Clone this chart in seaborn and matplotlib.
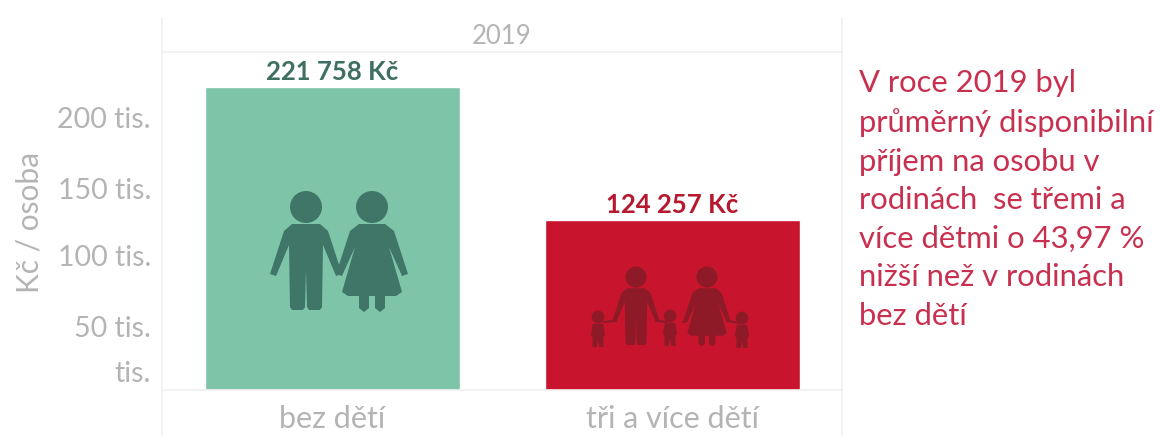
import numpy as np
import pandas as pd
import matplotlib.pyplot as plt
import matplotlib.transforms as mtrans
from matplotlib.patches import Circle, Polygon
import seaborn as sns

# data
categories = ['bez dětí', 'tři a více dětí']
values = [221758, 124257]
tick_values = [0, 50000, 100000, 150000, 200000]
tick_labels = ['tis.', '50 tis.', '100 tis.', '150 tis.', '200 tis.']
year = '2019'
note = ('V roce 2019 byl\nprůměrný disponibilní\npříjem na osobu v\n'
        'rodinách  se třemi a\nvíce dětmi o 43,97 %\nnižší než v rodinách\nbez dětí')

W, H = 1160, 436
GREEN = '#7EC4A8'
RED = '#C8152D'
GREY = '#B4B4B4'
LINE = '#F0F0F0'

sns.set_theme(style='white')
plt.rcParams['font.family'] = ['Lato', 'DejaVu Sans']

fig = plt.figure(figsize=(W / 100, H / 100), dpi=100)
# axes box in pixels: 162-842 across, 52-390 down
ax = fig.add_axes([162 / W, 1 - 390 / H, 680 / W, 338 / H])

df = pd.DataFrame({'typ': categories, 'prijem': values})
sns.barplot(data=df, x='typ', y='prijem', hue='typ', palette=[GREEN, RED],
            width=0.75, dodge=False, legend=False, saturation=1, ax=ax)
ax.set_xlim(-0.5, 1.5)
ax.set_ylim(0, 247400)
sns.despine(ax=ax, left=True, bottom=True, top=True, right=True)

ax.set_yticks(tick_values)
ax.set_yticklabels(tick_labels)
ax.tick_params(axis='y', length=0, pad=8, labelsize=20.5, labelcolor=GREY)
ax.tick_params(axis='x', length=0, pad=11, labelsize=22, labelcolor=GREY)
ax.set_xlabel('')
ax.set_ylabel('Kč / osoba', fontsize=21.5, color=GREY, labelpad=0)
ax.yaxis.set_label_coords((44 - 162) / 680, (390 - 222) / 338)

# the tick labels sit a bit above/below their ticks in the original
shifts = [18, -5, -2, -3, -1]
for lab, dy in zip(ax.get_yticklabels(), shifts):
    lab.set_transform(lab.get_transform() + mtrans.ScaledTranslation(0, dy / 100, fig.dpi_scale_trans))

# value labels above the bars
label_colors = ['#3F6F62', '#B5182F']
for cont, v, c in zip(ax.containers, values, label_colors):
    txt = f'{v:,}'.replace(',', ' ') + ' Kč'
    ax.bar_label(cont, labels=[txt], color=c, fontsize=18.5, fontweight='bold', padding=2)

ax.text(0.5, 1 + 16 / 338, year, transform=ax.transAxes, ha='center', va='center',
        fontsize=18.5, color=GREY)

# overlay in pixel coordinates for frame lines and the people icons
ov = fig.add_axes([0, 0, 1, 1], zorder=5)
ov.set_xlim(0, W)
ov.set_ylim(H, 0)
ov.axis('off')
ov.patch.set_alpha(0)

ov.plot([162, 162], [18, 435], color=LINE, lw=1.2)
ov.plot([842, 842], [18, 435], color=LINE, lw=1.2)
ov.plot([162, 842], [52, 52], color=LINE, lw=1.2)
ov.plot([162, 842], [390, 390], color=LINE, lw=1.2)


def man(cx, hy, s, col):
    ov.add_patch(Circle((cx, hy), 16 * s, color=col, lw=0))
    pts = [(-14, 17), (14, 17), (22, 24), (36, 67), (30, 69), (17, 38), (16, 100), (14, 103), (3, 103), (1, 100),
           (0, 62), (-1, 100), (-3, 103), (-14, 103), (-16, 100), (-17, 38), (-30, 69), (-36, 67), (-22, 24)]
    ov.add_patch(Polygon([(cx + x * s, hy + y * s) for x, y in pts], color=col, lw=0))


def woman(cx, hy, s, col):
    ov.add_patch(Circle((cx, hy), 16 * s, color=col, lw=0))
    pts = [(-13, 17), (13, 17), (22, 24), (36, 67), (30, 69), (17, 40), (30, 85), (24, 89), (-24, 89), (-30, 85),
           (-17, 40), (-30, 69), (-36, 67), (-22, 24)]
    ov.add_patch(Polygon([(cx + x * s, hy + y * s) for x, y in pts], color=col, lw=0))
    for lx in (-8, 8):
        ov.add_patch(Polygon([(cx + (lx - 5) * s, hy + 85 * s), (cx + (lx + 5) * s, hy + 85 * s),
                              (cx + (lx + 5) * s, hy + 101 * s), (cx + lx * s, hy + 105 * s),
                              (cx + (lx - 5) * s, hy + 101 * s)], color=col, lw=0))


def child(cx, hy, s, col):
    ov.add_patch(Circle((cx, hy), 16 * s, color=col, lw=0))
    pts = [(-13, 17), (13, 17), (18, 46), (14, 48), (14, 75), (3, 75), (0, 58), (-3, 75), (-14, 75), (-14, 48),
           (-18, 46)]
    ov.add_patch(Polygon([(cx + x * s, hy + y * s) for x, y in pts], color=col, lw=0))


icon_green = '#3F7668'
man(306, 207, 1, icon_green)
woman(372, 207, 1, icon_green)

icon_red = '#8F1A27'
man(636, 277, 0.66, icon_red)
woman(707, 277, 0.66, icon_red)
child(598, 317, 0.4, icon_red)
child(670, 316, 0.4, icon_red)
child(742, 318, 0.4, icon_red)
for x0, x1, y0, y1 in [(604, 613, 322, 321), (659, 666, 321, 322), (683, 686, 322, 321), (729, 738, 321, 323)]:
    ov.plot([x0, x1], [y0, y1], color=icon_red, lw=1.6)

fig.text(859 / W, 1 - 69 / H, note, color='#C8304F', fontsize=22.3, va='top', ha='left', linespacing=1.46)

plt.savefig('out.png', dpi=100)
